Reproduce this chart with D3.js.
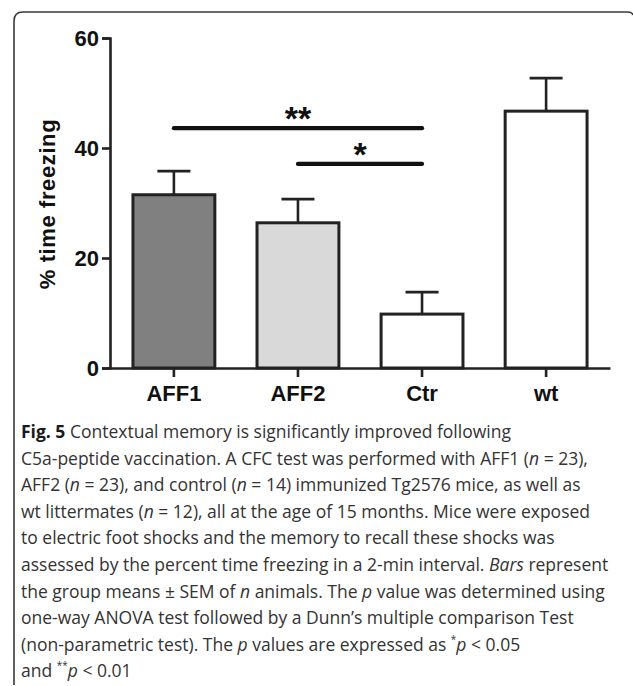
<!DOCTYPE html>
<html>
<head>
<meta charset="utf-8">
<script src="https://cdn.jsdelivr.net/npm/d3@7"></script>
<style>
  body { margin: 0; background: #fff; }
  svg { display: block; }
</style>
</head>
<body>
<svg id="fig" width="633" height="686"></svg>
<script>
// values
var groups = ["AFF1", "AFF2", "Ctr", "wt"];
var means = [31.5, 26.4, 9.8, 46.7];
var sems = [4.3, 4.3, 4.0, 6.0];
var yTicks = [0, 20, 40, 60];
var comparisons = [
  { from: "AFF1", to: "Ctr", level: 43.6, label: "**" },
  { from: "AFF2", to: "Ctr", level: 37.1, label: "*" }
];
var barFills = ["#808080", "#d9d9d9", "#ffffff", "#ffffff"];

// caption, one array per line: [text, style]
var captionLines = [
  [["Fig. 5", "b"], [" Contextual memory is significantly improved following", ""]],
  [["C5a-peptide vaccination. A CFC test was performed with AFF1 (", ""], ["n", "i"], [" = 23),", ""]],
  [["AFF2 (", ""], ["n", "i"], [" = 23), and control (", ""], ["n", "i"], [" = 14) immunized Tg2576 mice, as well as", ""]],
  [["wt littermates (", ""], ["n", "i"], [" = 12), all at the age of 15 months. Mice were exposed", ""]],
  [["to electric foot shocks and the memory to recall these shocks was", ""]],
  [["assessed by the percent time freezing in a 2-min interval. ", ""], ["Bars", "i"], [" represent", ""]],
  [["the group means ± SEM of ", ""], ["n", "i"], [" animals. The ", ""], ["p", "i"], [" value was determined using", ""]],
  [["one-way ANOVA test followed by a Dunn’s multiple comparison Test", ""]],
  [["(non-parametric test). The ", ""], ["p", "i"], [" values are expressed as ", ""], ["*", "sup"], ["p", "i2"], [" < 0.05", ""]],
  [["and ", ""], ["**", "sup"], ["p", "i2"], [" < 0.01", ""]]
];

var svg = d3.select("#fig");

// frame: left edge and top edge, rounded corners
svg.append("path")
  .attr("d", "M14,685 L14,21 Q14,12 23,12 L628,12 Q632,12 633,15")
  .attr("fill", "none")
  .attr("stroke", "#3a3a3a")
  .attr("stroke-width", 1.6);

var x = d3.scaleBand().domain(groups).range([110, 610]).paddingInner(0.34).paddingOuter(0.185);
var y = d3.scaleLinear().domain([0, 60]).range([368, 38]);

var chart = svg.append("g");
var axisFont = "'Liberation Sans', Arial, Helvetica, sans-serif";

// bars
chart.selectAll("rect.bar")
  .data(groups)
  .enter().append("rect")
  .attr("class", "bar")
  .attr("x", function(d){ return x(d); })
  .attr("width", x.bandwidth())
  .attr("y", function(d, i){ return y(means[i]); })
  .attr("height", function(d, i){ return y(0) - y(means[i]); })
  .attr("fill", function(d, i){ return barFills[i]; })
  .attr("stroke", "#222")
  .attr("stroke-width", 3);

// upper error bars
groups.forEach(function(g, i){
  var cx = x(g) + x.bandwidth() / 2;
  chart.append("line")
    .attr("x1", cx).attr("x2", cx)
    .attr("y1", y(means[i])).attr("y2", y(means[i] + sems[i]))
    .attr("stroke", "#222").attr("stroke-width", 2.6);
  chart.append("line")
    .attr("x1", cx - 16.5).attr("x2", cx + 16.5)
    .attr("y1", y(means[i] + sems[i])).attr("y2", y(means[i] + sems[i]))
    .attr("stroke", "#222").attr("stroke-width", 2.6);
});

// y axis
var yAxis = chart.append("g")
  .attr("transform", "translate(110,0)")
  .call(d3.axisLeft(y).tickValues(yTicks).tickSize(8).tickPadding(3));
yAxis.select(".domain").attr("stroke", "#222").attr("stroke-width", 2.6);
yAxis.selectAll(".tick line").attr("stroke", "#222").attr("stroke-width", 2.6);
yAxis.selectAll(".tick text")
  .attr("fill", "#111")
  .style("font-family", axisFont)
  .style("font-weight", "bold")
  .style("font-size", "22px");

// x axis
var xAxis = chart.append("g")
  .attr("transform", "translate(0,368)")
  .call(d3.axisBottom(x).tickSize(9).tickPadding(8).tickSizeOuter(0));
xAxis.select(".domain").attr("stroke", "#222").attr("stroke-width", 2.6);
xAxis.selectAll(".tick line").attr("stroke", "#222").attr("stroke-width", 2.6);
xAxis.selectAll(".tick text")
  .attr("fill", "#111")
  .style("font-family", axisFont)
  .style("font-weight", "bold")
  .style("font-size", "22px");

// y label
chart.append("text")
  .attr("transform", "translate(55,204) rotate(-90)")
  .attr("text-anchor", "middle")
  .attr("fill", "#111")
  .style("font-family", axisFont)
  .style("font-weight", "bold")
  .style("font-size", "22px")
  .style("letter-spacing", "0.6px")
  .text("% time freezing");

// significance bars
comparisons.forEach(function(c){
  var x1 = x(c.from) + x.bandwidth() / 2;
  var x2 = x(c.to) + x.bandwidth() / 2;
  chart.append("line")
    .attr("x1", x1).attr("x2", x2)
    .attr("y1", y(c.level)).attr("y2", y(c.level))
    .attr("stroke", "#111").attr("stroke-width", 4.2)
    .attr("stroke-linecap", "round");
  chart.append("text")
    .attr("x", (x1 + x2) / 2)
    .attr("y", y(c.level) + 2)
    .attr("text-anchor", "middle")
    .attr("fill", "#111")
    .style("font-family", axisFont)
    .style("font-weight", "bold")
    .style("font-size", "34px")
    .text(c.label);
});

// caption
var cap = svg.append("g")
  .style("font-family", "'Open Sans', 'Noto Sans', sans-serif")
  .style("font-size", "17.5px")
  .attr("fill", "#333");

captionLines.forEach(function(parts, li){
  var t = cap.append("text")
    .attr("x", 21)
    .attr("y", 438 + li * 26.6);
  parts.forEach(function(p){
    var s = t.append("tspan").text(p[0]);
    if(p[1] == "b"){ s.style("font-weight", "bold").attr("fill", "#1a1a1a"); }
    if(p[1] == "i" || p[1] == "i2"){ s.style("font-style", "italic"); }
    if(p[1] == "sup"){ s.style("font-size", "10px").attr("dy", -8); }
    // back to the baseline after a superscript
    if(p[1] == "i2"){ s.attr("dy", 8); }
  });
});
</script>
</body>
</html>
